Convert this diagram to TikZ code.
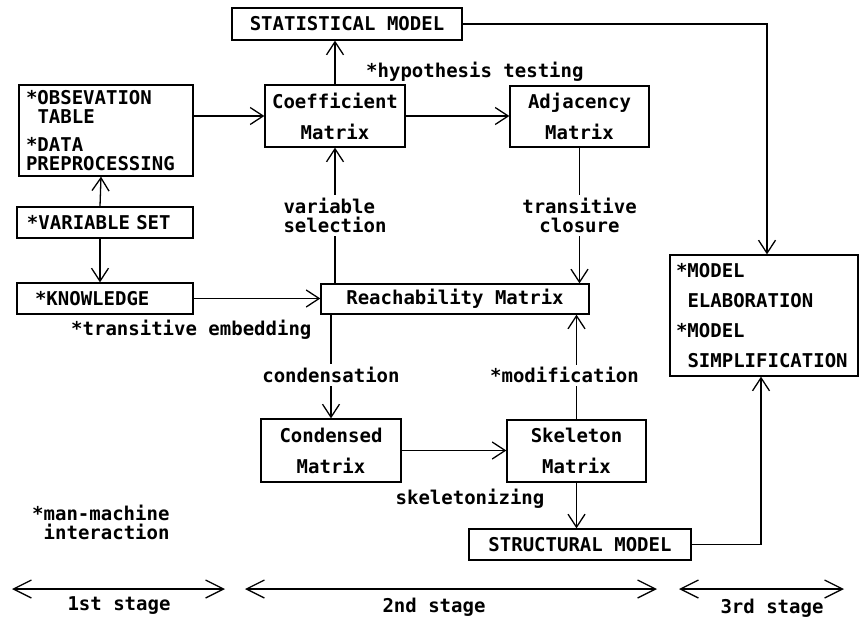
\documentclass[tikz,border=0pt]{standalone}
\usepackage{fontspec}
\setmainfont{DejaVu Sans Mono}
\usetikzlibrary{arrows.meta,calc}
\tikzset{
  box/.style={draw, line width=1.3pt, inner sep=0pt, font=\bfseries\fontsize{19}{31}\selectfont, align=center},
  lbl/.style={inner xsep=1pt, inner ysep=3pt, font=\bfseries\fontsize{19}{19}\selectfont, align=left},
  conn/.style={line width=1.3pt, -{Straight Barb[length=13pt,width=17pt,line width=1.3pt]}},
  stagearrow/.style={line width=1.3pt, {Straight Barb[length=18pt,width=18pt,line width=1.3pt]}-{Straight Barb[length=18pt,width=18pt,line width=1.3pt]}}
}
\begin{document}
\begin{tikzpicture}[x=1pt,y=-1pt]
\path[use as bounding box] (0,0) rectangle (859,618);
% boxes
\node[box, minimum width=230pt, minimum height=32pt] (stat) at (347,24) {STATISTICAL MODEL};
\node[box, minimum width=140pt, minimum height=62pt] (coef) at (335,116) {Coefficient\\Matrix};
\node[box, minimum width=139pt, minimum height=61pt] (adj) at (579.5,116.5) {Adjacency\\Matrix};
\node[box, minimum width=174pt, minimum height=91pt, text width=160pt, align=left, font=\bfseries\fontsize{19}{19}\selectfont] (obs) at (106,130.5) {{*}OBSEVATION\\\hspace*{11.5pt}TABLE\\[9pt]{*}DATA\\PREPROCESSING};
\node[box, minimum width=176pt, minimum height=31pt, text width=156pt, align=left] (varset) at (105,222.5) {{*}VARIABLE SET};
\node[box, minimum width=176pt, minimum height=31pt, text width=140pt, align=left] (know) at (105,298.5) {{*}KNOWLEDGE};
\node[box, minimum width=268pt, minimum height=30pt] (reach) at (455,299) {Reachability Matrix};
\node[box, minimum width=140pt, minimum height=63pt] (cond) at (331,450.5) {Condensed\\Matrix};
\node[box, minimum width=139pt, minimum height=62pt] (skel) at (576.5,451) {Skeleton\\Matrix};
\node[box, minimum width=222pt, minimum height=31pt] (struct) at (580,544.5) {STRUCTURAL MODEL};
\node[box, minimum width=188pt, minimum height=121pt, text width=176pt, align=left, font=\bfseries\fontsize{19}{30}\selectfont] (model) at (764,315.5) {{*}MODEL\\\hspace*{11.5pt}ELABORATION\\{*}MODEL\\\hspace*{11.5pt}SIMPLIFICATION};
% free labels
\node[lbl, anchor=west] (hyp) at (365,72) {{*}hypothesis testing};
\node[lbl, anchor=west] (emb) at (70,330) {{*}transitive embedding};
\node[lbl] (skl) at (470,499) {skeletonizing};
\node[lbl, anchor=west] (mm) at (31,522) {{*}man-machine\\\hspace*{11.5pt}interaction};
% connectors
\draw[conn] ([xshift=-5pt]varset.north) -- ([xshift=-5pt]obs.south);
\draw[conn] ([xshift=-5pt]varset.south) -- ([xshift=-5pt]know.north);
\draw[conn] (coef.west -| obs.east) -- (coef.west);
\draw[conn] (coef.east) -- (adj.west |- coef.east);
\draw[conn] (coef.north) -- (coef.north |- stat.south);
\draw[conn] (reach.north -| coef.south) -- node[lbl, fill=white, midway] {variable\\selection} (coef.south);
\draw[conn] (adj.south) -- node[lbl, fill=white, align=center, midway] {transitive\\closure} (adj.south |- reach.north);
\draw[conn] (reach.south -| cond.north) -- node[lbl, fill=white, pos=0.58] {condensation} (cond.north);
\draw[conn] (cond.east) -- (skel.west |- cond.east);
\draw[conn] (skel.north) -- node[lbl, fill=white, pos=0.42, xshift=-12pt] {{*}modification} (skel.north |- reach.south);
\draw[conn] (skel.south) -- (skel.south |- struct.north);
\draw[conn] (stat.east) -| ([xshift=3pt]model.north);
\draw[conn] (struct.east) -| ([xshift=-3pt]model.south);
\draw[conn] (know.east) -- (reach.west |- know.east);
% stages
\coordinate (s1a) at (12,589);
\coordinate (s1b) at (225,589);
\coordinate (s2a) at (245,589);
\coordinate (s2b) at (657,589);
\coordinate (s3a) at (679,589);
\coordinate (s3b) at (844,589);
\draw[stagearrow] (s1a) -- (s1b);
\draw[stagearrow] (s2a) -- (s2b);
\draw[stagearrow] (s3a) -- (s3b);
\node[lbl] (st1) at (119,606) {1st stage};
\node[lbl] (st2) at (434,607) {2nd stage};
\node[lbl] (st3) at (772,608) {3rd stage};
\end{tikzpicture}
\end{document}
